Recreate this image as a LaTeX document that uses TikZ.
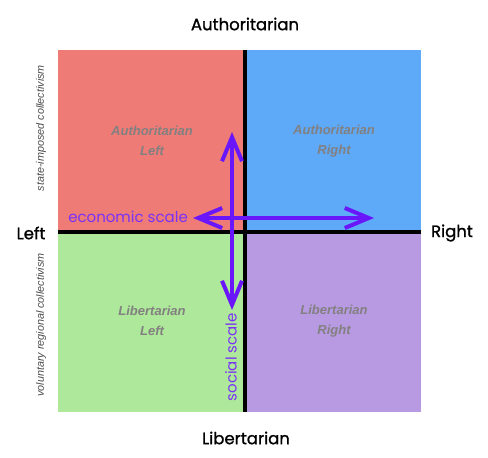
\documentclass[tikz,border=0pt]{standalone}
\usepackage{fontspec}
\setmainfont{Liberation Sans}
\newfontfamily\gothic{Poppins}
\newfontfamily\gothicheavy{Poppins}[FakeBold=1.2]
\usetikzlibrary{arrows.meta}
\definecolor{authleft}{RGB}{239,123,119}
\definecolor{authright}{RGB}{94,169,248}
\definecolor{libleft}{RGB}{174,232,154}
\definecolor{libright}{RGB}{184,154,227}
\definecolor{scalecol}{RGB}{106,22,250}
\definecolor{scaletext}{RGB}{122,50,246}
\definecolor{quadgray}{RGB}{130,128,128}
\tikzset{
  quad/.style={font=\bfseries\itshape\fontsize{13}{20}\selectfont, text=quadgray, align=center},
  axislabel/.style={font=\gothicheavy\fontsize{16.5}{18}\selectfont},
  sidenote/.style={font=\itshape\fontsize{10.8}{12}\selectfont, text=black!70, rotate=90},
  scalelabel/.style={font=\gothic\fontsize{15}{16}\selectfont, text=scaletext, inner sep=0pt},
  scalearrow/.style={draw=scalecol, line width=4pt, line cap=round,
    {Straight Barb[length=24pt,width=20pt]}-{Straight Barb[length=24pt,width=20pt]}}
}
\begin{document}
\begin{tikzpicture}[x=1pt,y=-1pt]
\useasboundingbox (0,0) rectangle (488,458);
\fill[authleft] (58,50) rectangle (245,232);
\fill[authright] (245,50) rectangle (421,232);
\fill[libleft] (58,232) rectangle (245,412);
\fill[libright] (245,232) rectangle (421,412);
\coordinate (north) at (245,50);
\coordinate (south) at (245,412);
\coordinate (west) at (58,232);
\coordinate (east) at (421,232);
\draw[line width=4pt] (north) -- (south);
\draw[line width=4pt] (west) -- (east);
\node[axislabel] (auth) at (245,24) {Authoritarian};
\node[axislabel] (lib) at (246,438) {Libertarian};
\node[axislabel] (left) at (31,233) {Left};
\node[axislabel] (right) at (452,233) {Right};
\node[quad] (al) at (152,141) {Authoritarian\\Left};
\node[quad] (ar) at (334,141) {Authoritarian\\Right};
\node[quad] (ll) at (152,321) {Libertarian\\Left};
\node[quad] (lr) at (334,321) {Libertarian\\Right};
\node[sidenote] (state) at (41,128) {state-imposed collectivism};
\node[sidenote] (vol) at (41,325) {voluntary regional collectivism};
\coordinate (socup) at (232,132);
\coordinate (socdown) at (232,310);
\coordinate (ecoleft) at (193,218);
\coordinate (ecoright) at (374,218);
\draw[scalearrow] (ecoleft) -- (ecoright);
\draw[scalearrow] (socup) -- (socdown);
\node[scalelabel, anchor=east] (eco) at (188,217) {economic scale};
\node[scalelabel, rotate=90, anchor=east] (soc) at (231,313) {social scale};
\end{tikzpicture}
\end{document}
